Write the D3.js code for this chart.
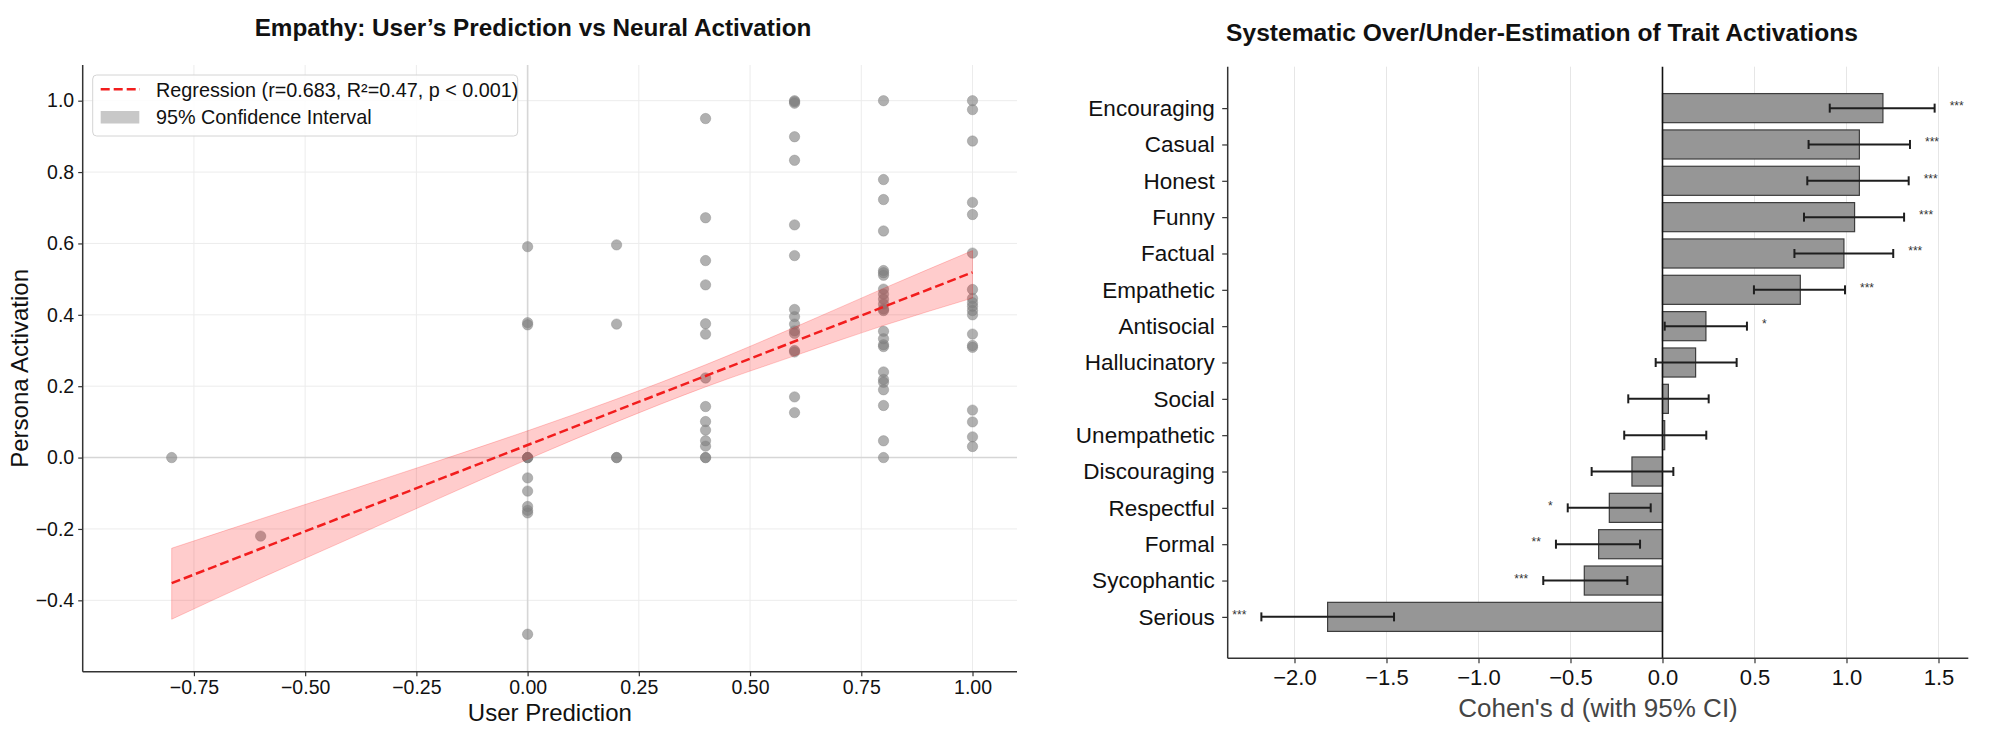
<!DOCTYPE html>
<html><head><meta charset="utf-8">
<script src="https://cdn.jsdelivr.net/npm/d3@7"></script>
<style>
html,body{margin:0;padding:0;background:#fff;}
svg{display:block;font-family:"Liberation Sans",Arial,Helvetica,sans-serif;}
</style></head><body>
<svg id="chart" width="2007" height="736"></svg>
<script>
// ---------- Data: left scatter ----------
const scatterX = [-0.8, -0.6, 0.0, 0.2, 0.4, 0.6, 0.8, 1.0];
const scatterY = [
  [0.0],
  [-0.22],
  [0.591, 0.378, 0.372, 0, 0, 0, -0.057, -0.094, -0.137, -0.148, -0.155, -0.495],
  [0.596, 0.374, 0, 0],
  [0.950, 0.672, 0.552, 0.484, 0.375, 0.346, 0.223, 0.143, 0.101, 0.077, 0.047, 0.032, 0, 0],
  [1.0, 0.997, 0.993, 0.899, 0.833, 0.652, 0.566, 0.415, 0.395, 0.374, 0.355, 0.348, 0.300, 0.296, 0.170, 0.126],
  [1.0, 0.779, 0.723, 0.635, 0.524, 0.518, 0.511, 0.472, 0.458, 0.444, 0.430, 0.416, 0.412, 0.354, 0.333, 0.316, 0.311, 0.240, 0.219, 0.211, 0.190, 0.146, 0.047, 0.0],
  [1.0, 0.975, 0.887, 0.715, 0.681, 0.573, 0.471, 0.446, 0.434, 0.424, 0.412, 0.400, 0.346, 0.314, 0.309, 0.133, 0.100, 0.058, 0.031]
];
const regX = [-0.8, 1.0];
const regY = [-0.352, 0.519];
const ciX    = [-0.8, -0.6, -0.4, -0.2, 0.0, 0.2, 0.4, 0.6, 0.8, 1.0];
const ciLow  = [-0.453, -0.338, -0.227, -0.115, -0.005, 0.100, 0.198, 0.285, 0.370, 0.447];
const ciHigh = [-0.254, -0.172, -0.091, -0.009, 0.075, 0.164, 0.260, 0.365, 0.474, 0.580];
const leftXTicks = [-0.75, -0.50, -0.25, 0.00, 0.25, 0.50, 0.75, 1.00];
const leftYTicks = [-0.4, -0.2, 0.0, 0.2, 0.4, 0.6, 0.8, 1.0];
const legendLabels = ["Regression (r=0.683, R\u00B2=0.47, p < 0.001)", "95% Confidence Interval"];

// ---------- Data: right bar chart ----------
const traits = ["Encouraging","Casual","Honest","Funny","Factual","Empathetic","Antisocial","Hallucinatory","Social","Unempathetic","Discouraging","Respectful","Formal","Sycophantic","Serious"];
const cohensD = [1.198, 1.070, 1.070, 1.044, 0.986, 0.749, 0.236, 0.180, 0.032, 0.012, -0.166, -0.289, -0.347, -0.425, -1.820];
const ciLo = [0.909, 0.794, 0.787, 0.769, 0.717, 0.497, 0.012, -0.037, -0.186, -0.208, -0.385, -0.515, -0.579, -0.648, -2.180];
const ciHi = [1.479, 1.345, 1.338, 1.313, 1.254, 0.992, 0.459, 0.403, 0.251, 0.238, 0.059, -0.064, -0.122, -0.191, -1.459];
const stars = ["***","***","***","***","***","***","*","","","","","*","**","***","***"];
const rightXTicks = [-2.0, -1.5, -1.0, -0.5, 0.0, 0.5, 1.0, 1.5];

const svg = d3.select("#chart");
const minus = s => s.replace("-", "\u2212");

// ================= LEFT CHART =================
const L = {x0: 82.7, x1: 1017, y0: 65, y1: 671.7};
const lx = d3.scaleLinear().domain([-1.0, 1.1]).range([L.x0, L.x1]);
const ly = d3.scaleLinear().domain([-0.6, 1.1]).range([L.y1, L.y0]);
const gl = svg.append("g");

// grid
gl.append("g").selectAll("line").data(leftXTicks).join("line")
  .attr("x1", d => lx(d)).attr("x2", d => lx(d)).attr("y1", L.y0).attr("y2", L.y1)
  .attr("stroke", "#ececec").attr("stroke-width", 1);
gl.append("g").selectAll("line").data(leftYTicks).join("line")
  .attr("y1", d => ly(d)).attr("y2", d => ly(d)).attr("x1", L.x0).attr("x2", L.x1)
  .attr("stroke", "#ececec").attr("stroke-width", 1);
// zero reference lines
gl.append("line").attr("x1", L.x0).attr("x2", L.x1).attr("y1", ly(0)).attr("y2", ly(0))
  .attr("stroke", "#d6d6d6").attr("stroke-width", 1.6);
gl.append("line").attr("x1", lx(0)).attr("x2", lx(0)).attr("y1", L.y0).attr("y2", L.y1)
  .attr("stroke", "#d6d6d6").attr("stroke-width", 1.6);

// points
const pts = [];
scatterX.forEach((xv, i) => scatterY[i].forEach(yv => pts.push([xv, yv])));
gl.append("g").selectAll("circle").data(pts).join("circle")
  .attr("cx", d => lx(d[0])).attr("cy", d => ly(d[1])).attr("r", 5.2)
  .attr("fill", "#808080").attr("fill-opacity", 0.62)
  .attr("stroke", "#808080").attr("stroke-opacity", 0.62).attr("stroke-width", 0.6);

// CI band
const band = ciX.map((x, i) => ({x, lo: ciLow[i], hi: ciHigh[i]}));
gl.append("path").datum(band)
  .attr("d", d3.area().x(d => lx(d.x)).y0(d => ly(d.lo)).y1(d => ly(d.hi)).curve(d3.curveMonotoneX))
  .attr("fill", "#ff0000").attr("fill-opacity", 0.2)
  .attr("stroke", "#ff0000").attr("stroke-opacity", 0.2).attr("stroke-width", 1);

// regression line
gl.append("path").datum(regX.map((x, i) => [x, regY[i]]))
  .attr("d", d3.line().x(d => lx(d[0])).y(d => ly(d[1])))
  .attr("fill", "none").attr("stroke", "#f21d1d").attr("stroke-width", 2.5)
  .attr("stroke-dasharray", "9,4");

// axes
const lxAxis = gl.append("g").attr("transform", `translate(0,${L.y1})`)
  .call(d3.axisBottom(lx).tickValues(leftXTicks).tickSize(4.5).tickPadding(4)
        .tickFormat(d => minus(d3.format(".2f")(d))));
const lyAxis = gl.append("g").attr("transform", `translate(${L.x0},0)`)
  .call(d3.axisLeft(ly).tickValues(leftYTicks).tickSize(4.5).tickPadding(4)
        .tickFormat(d => minus(d3.format(".1f")(d))));
[lxAxis, lyAxis].forEach(a => {
  a.select(".domain").attr("stroke", "#333").attr("stroke-width", 1.5);
  a.selectAll(".tick line").attr("stroke", "#333").attr("stroke-width", 1.2);
  a.selectAll(".tick text").attr("fill", "#111").style("font-size", "19.5px").style("font-family", "Liberation Sans, Arial, sans-serif");
});
lxAxis.select(".domain").attr("d", `M${L.x0},0H${L.x1}`);
lyAxis.select(".domain").attr("d", `M0,${L.y1}V${L.y0}`);

// labels
gl.append("text").attr("x", 533).attr("y", 36).attr("text-anchor", "middle")
  .style("font-size", "24.3px").style("font-weight", "bold").attr("fill", "#111")
  .text("Empathy: User\u2019s Prediction vs Neural Activation");
gl.append("text").attr("x", (L.x0 + L.x1) / 2).attr("y", 721).attr("text-anchor", "middle")
  .style("font-size", "24px").attr("fill", "#111").text("User Prediction");
gl.append("text").attr("transform", `translate(28,${(L.y0 + L.y1) / 2}) rotate(-90)`)
  .attr("text-anchor", "middle").style("font-size", "24px").attr("fill", "#111").text("Persona Activation");

// legend
const lg = gl.append("g");
lg.append("rect").attr("x", 92.7).attr("y", 75).attr("width", 425).attr("height", 61).attr("rx", 4)
  .attr("fill", "#fff").attr("fill-opacity", 0.85).attr("stroke", "#d4d4d4").attr("stroke-width", 1);
lg.append("line").attr("x1", 100.7).attr("x2", 140).attr("y1", 89.3).attr("y2", 89.3)
  .attr("stroke", "#f21d1d").attr("stroke-width", 2.5).attr("stroke-dasharray", "9,4");
lg.append("rect").attr("x", 100.7).attr("y", 111).attr("width", 38.6).attr("height", 12.5).attr("fill", "#c8c8c8");
lg.selectAll("text.lt").data(legendLabels).join("text").attr("class", "lt")
  .attr("x", 156).attr("y", (d, i) => i === 0 ? 96.5 : 124)
  .style("font-size", "19.8px").attr("fill", "#111").text(d => d);

// ================= RIGHT CHART =================
const R = {x0: 1227.7, x1: 1968.3, y0: 66.7, y1: 658.3};
const rx = d3.scaleLinear().domain([-2.363, 1.662]).range([R.x0, R.x1]);
const ry = d3.scaleLinear().domain([-1.14, 15.14]).range([R.y0, R.y1]);
const gr = svg.append("g");

gr.append("g").selectAll("line").data(rightXTicks.filter(d => d !== 0)).join("line")
  .attr("x1", d => rx(d)).attr("x2", d => rx(d)).attr("y1", R.y0).attr("y2", R.y1)
  .attr("stroke", "#e6e6e6").attr("stroke-width", 1);

const barH = 0.8;
gr.append("g").selectAll("rect").data(traits).join("rect")
  .attr("x", (d, i) => Math.min(rx(0), rx(cohensD[i])))
  .attr("width", (d, i) => Math.abs(rx(cohensD[i]) - rx(0)))
  .attr("y", (d, i) => ry(i - barH / 2)).attr("height", ry(barH) - ry(0))
  .attr("fill", "#969696").attr("stroke", "#3d3d3d").attr("stroke-width", 1.2);

// zero line
gr.append("line").attr("x1", rx(0)).attr("x2", rx(0)).attr("y1", R.y0).attr("y2", R.y1)
  .attr("stroke", "#111").attr("stroke-width", 1.6);

// error bars
const eb = gr.append("g").attr("stroke", "#1e1e1e").attr("stroke-width", 2);
traits.forEach((t, i) => {
  const y = ry(i);
  eb.append("line").attr("x1", rx(ciLo[i])).attr("x2", rx(ciHi[i])).attr("y1", y).attr("y2", y);
  eb.append("line").attr("x1", rx(ciLo[i])).attr("x2", rx(ciLo[i])).attr("y1", y - 4.5).attr("y2", y + 4.5);
  eb.append("line").attr("x1", rx(ciHi[i])).attr("x2", rx(ciHi[i])).attr("y1", y - 4.5).attr("y2", y + 4.5);
});

// stars
gr.append("g").selectAll("text").data(traits).join("text")
  .attr("x", (d, i) => cohensD[i] >= 0 ? rx(ciHi[i]) + 15 : rx(ciLo[i]) - 15)
  .attr("y", (d, i) => ry(i) + 2)
  .attr("text-anchor", (d, i) => cohensD[i] >= 0 ? "start" : "end")
  .style("font-size", "12px").attr("fill", "#333")
  .text((d, i) => stars[i]);

// axes
const rxAxis = gr.append("g").attr("transform", `translate(0,${R.y1})`)
  .call(d3.axisBottom(rx).tickValues(rightXTicks).tickSize(5).tickPadding(6)
        .tickFormat(d => minus(d3.format(".1f")(d))));
const ryAxis = gr.append("g").attr("transform", `translate(${R.x0},0)`)
  .call(d3.axisLeft(ry).tickValues(d3.range(traits.length)).tickSize(5.5).tickPadding(7.5)
        .tickFormat(i => traits[i]));
[rxAxis, ryAxis].forEach(a => {
  a.select(".domain").attr("stroke", "#333").attr("stroke-width", 1.5);
  a.selectAll(".tick line").attr("stroke", "#333").attr("stroke-width", 1.2);
  a.selectAll(".tick text").attr("fill", "#111").style("font-family", "Liberation Sans, Arial, sans-serif");
});
rxAxis.selectAll(".tick text").style("font-size", "22px");
ryAxis.selectAll(".tick text").style("font-size", "22.5px");
rxAxis.select(".domain").attr("d", `M${R.x0},0H${R.x1}`);
ryAxis.select(".domain").attr("d", `M0,${R.y1}V${R.y0}`);

gr.append("text").attr("x", 1542).attr("y", 41).attr("text-anchor", "middle")
  .style("font-size", "24.6px").style("font-weight", "bold").attr("fill", "#111")
  .text("Systematic Over/Under-Estimation of Trait Activations");
gr.append("text").attr("x", (R.x0 + R.x1) / 2).attr("y", 717).attr("text-anchor", "middle")
  .style("font-size", "26px").attr("fill", "#454545").text("Cohen's d (with 95% CI)");
</script>
</body></html>
